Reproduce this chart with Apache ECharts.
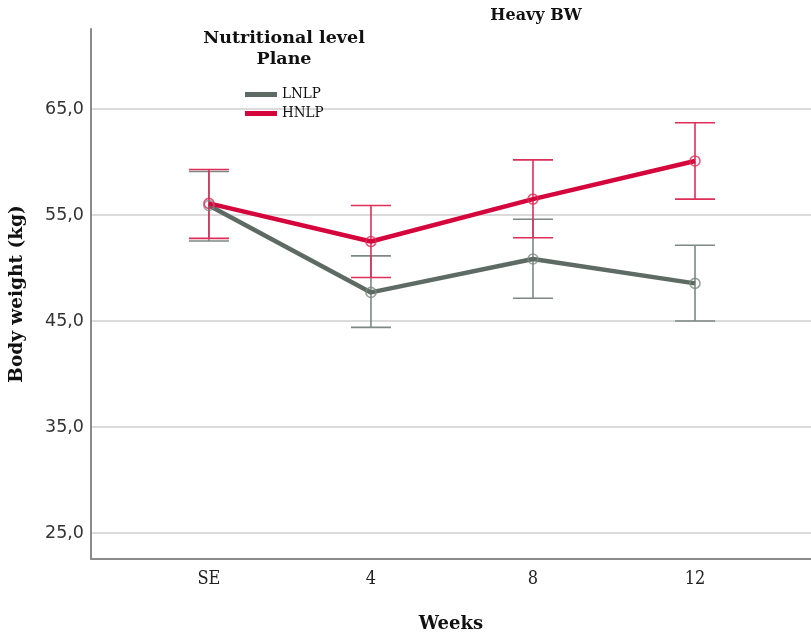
<!DOCTYPE html>
<html><head><meta charset="utf-8">
<script src="https://cdn.jsdelivr.net/npm/echarts@6/dist/echarts.min.js"></script>
<style>html,body{margin:0;padding:0;background:#fff}#c{width:811px;height:634px}</style>
</head><body><div id="c"></div>
<script>
const categories = ['SE', '4', '8', '12'];
const lnlpMean = [55.9, 47.7, 50.85, 48.55];
const lnlpLow  = [52.55, 44.4, 47.15, 45.0];
const lnlpHigh = [59.1, 51.15, 54.6, 52.15];
const hnlpMean = [56.1, 52.5, 56.5, 60.1];
const hnlpLow  = [52.8, 49.1, 52.85, 56.5];
const hnlpHigh = [59.3, 55.9, 60.2, 63.7];
const yTicks = [25, 35, 45, 55, 65];

const grayLine = '#5e6b65', grayBar = '#7d8883';
const redLine = '#d4063c', redBar = '#dd2f58';

function errSeries(name, low, high, color) {
  return {
    type: 'custom', name: name + ' err', silent: true, z: 3,
    data: low.map((l, i) => [i, l, high[i]]),
    renderItem: function (params, api) {
      const x = api.value(0);
      const p1 = api.coord([x, api.value(1)]);
      const p2 = api.coord([x, api.value(2)]);
      const hw = 20;
      const st = { stroke: color, lineWidth: 1.6 };
      return { type: 'group', children: [
        { type: 'line', shape: { x1: p1[0], y1: p1[1], x2: p2[0], y2: p2[1] }, style: st },
        { type: 'line', shape: { x1: p1[0] - hw, y1: p1[1], x2: p1[0] + hw, y2: p1[1] }, style: st },
        { type: 'line', shape: { x1: p2[0] - hw, y1: p2[1], x2: p2[0] + hw, y2: p2[1] }, style: st }
      ]};
    }
  };
}
function meanSeries(name, vals, color) {
  return {
    type: 'line', name: name, z: 4,
    data: vals.map((v, i) => [i, v]),
    lineStyle: { color: color, width: 4.5 },
    itemStyle: { color: color },
    symbol: 'none', showSymbol: false,
    emphasis: { disabled: true }
  };
}

const chart = echarts.init(document.getElementById('c'));
chart.setOption({
  animation: false,
  title: [
    { text: 'Heavy BW', left: 531, top: 3, textAlign: 'center',
      textStyle: { fontFamily: 'DejaVu Serif', fontSize: 16, fontWeight: 'bold', color: '#111' } },
    { text: 'Nutritional level\nPlane', left: 279, top: 23, textAlign: 'center',
      textStyle: { fontFamily: 'DejaVu Serif', fontSize: 17.5, fontWeight: 'bold', color: '#111', lineHeight: 21 } }
  ],
  legend: {
    left: 240, top: 82, orient: 'vertical', itemGap: 4, itemWidth: 32, itemHeight: 5,
    data: [
      { name: 'LNLP', icon: 'rect', itemStyle: { color: grayLine, opacity: 1 } },
      { name: 'HNLP', icon: 'rect', itemStyle: { color: redLine, opacity: 1 } }
    ],
    textStyle: { fontFamily: 'DejaVu Serif Condensed', fontSize: 15, color: '#111' },
    selectedMode: false
  },
  grid: { left: 91, right: 0, top: 29, bottom: 75, outerBoundsMode: 'none', containLabel: false },
  xAxis: {
    type: 'value', min: -0.728, max: 3.716,
    name: 'Weeks', nameLocation: 'middle', nameGap: 56,
    nameTextStyle: { fontFamily: 'DejaVu Serif', fontSize: 18, fontWeight: 'bold', color: '#111' },
    axisLine: { show: true, onZero: false, lineStyle: { color: '#8a8a8a', width: 2 } },
    axisTick: { show: false, customValues: [0, 1, 2, 3] },
    splitLine: { show: false },
    axisLabel: { customValues: [0, 1, 2, 3], formatter: v => categories[Math.round(v)],
      fontFamily: 'DejaVu Serif Condensed', fontSize: 18, color: '#222', margin: 11 }
  },
  yAxis: {
    type: 'value', min: 22.55, max: 72.55,
    name: 'Body weight (kg)', nameLocation: 'middle', nameGap: 64,
    nameTextStyle: { fontFamily: 'DejaVu Serif', fontSize: 18.5, fontWeight: 'bold', color: '#111' },
    axisLine: { show: true, onZero: false, lineStyle: { color: '#8a8a8a', width: 2 } },
    axisTick: { show: false, customValues: yTicks },
    splitLine: { show: true, lineStyle: { color: '#cfcfcf', width: 1.5 } },
    axisLabel: { customValues: yTicks, formatter: v => v.toFixed(1).replace('.', ','),
      fontFamily: 'DejaVu Sans', fontSize: 17.5, color: '#333', margin: 7 }
  },
  series: [
    errSeries('LNLP', lnlpLow, lnlpHigh, grayBar),
    errSeries('HNLP', hnlpLow, hnlpHigh, redBar),
    meanSeries('LNLP', lnlpMean, grayLine),
    meanSeries('HNLP', hnlpMean, redLine),
    { type: 'scatter', silent: true, z: 5, data: lnlpMean.map((v, i) => [i, v]), symbolSize: 10,
      itemStyle: { color: 'rgba(0,0,0,0)', borderColor: grayBar, borderWidth: 1.6 } },
    { type: 'scatter', silent: true, z: 5, data: hnlpMean.map((v, i) => [i, v]), symbolSize: 10,
      itemStyle: { color: 'rgba(0,0,0,0)', borderColor: redBar, borderWidth: 1.6 } }
  ]
});
</script></body></html>
